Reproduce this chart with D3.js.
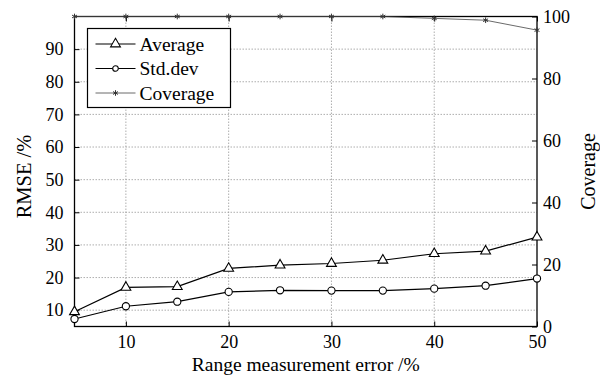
<!DOCTYPE html>
<html lang="en">
<head>
<meta charset="UTF-8">
<title>RMSE vs range measurement error</title>
<script src="https://d3js.org/d3.v7.min.js"></script>
<style>
    body { margin: 0; background: #fff; }
    .grid line { stroke: #999; stroke-width: 0.8px; stroke-dasharray: 1.5,1.5; }
</style>
</head>
<body>
<div id="chart"></div>
<script>
// data
const errors = [5, 10, 15, 20, 25, 30, 35, 40, 45, 50];
const average = [9.5, 17.0, 17.2, 22.8, 23.8, 24.3, 25.3, 27.3, 28.1, 32.4];
const stddev = [7.3, 11.2, 12.6, 15.6, 16.1, 16.0, 16.0, 16.6, 17.5, 19.7];
const coverage = [100, 100, 100, 100, 100, 100, 100, 99.4, 98.8, 95.6];
const leftTicks = [10, 20, 30, 40, 50, 60, 70, 80, 90];
const rightTicks = [0, 20, 40, 60, 80, 100];
const xTicks = [10, 20, 30, 40, 50];

const serif = '"Liberation Serif", "Times New Roman", serif';
const width = 600, height = 376;
const margin = { top: 16.5, right: 63, bottom: 49.5, left: 74.5 };
const iw = width - margin.left - margin.right;
const ih = height - margin.top - margin.bottom;

const svg = d3.select("#chart").append("svg")
    .attr("width", width)
    .attr("height", height)
    .style("font-family", serif);

const g = svg.append("g").attr("transform", `translate(${margin.left},${margin.top})`);

const x = d3.scaleLinear().domain([5, 50]).range([0, iw]);
const yL = d3.scaleLinear().domain([5, 100]).range([ih, 0]);
const yR = d3.scaleLinear().domain([0, 100]).range([ih, 0]);

// grid
const grid = g.append("g").attr("class", "grid");
grid.selectAll(".gx").data(xTicks.filter(d => d < 50)).enter().append("line")
    .attr("x1", d => x(d)).attr("x2", d => x(d))
    .attr("y1", 0).attr("y2", ih);
grid.selectAll(".gy").data(leftTicks).enter().append("line")
    .attr("x1", 0).attr("x2", iw)
    .attr("y1", d => yL(d)).attr("y2", d => yL(d));

// axes with inward ticks
const tickLen = 5;
function styleAxis(sel) {
    sel.attr("font-family", serif).attr("font-size", 18);
    sel.select(".domain").remove();
    sel.selectAll(".tick line").attr("stroke", "#000");
    sel.selectAll(".tick text").attr("fill", "#000")
        .style("font-family", serif).style("font-size", "18px");
}
g.append("g").attr("transform", `translate(0,${ih})`)
    .call(d3.axisBottom(x).tickValues(xTicks).tickSizeInner(-tickLen).tickSizeOuter(0).tickPadding(9))
    .call(styleAxis);
g.append("g")
    .call(d3.axisTop(x).tickValues(xTicks).tickSizeInner(-tickLen).tickSizeOuter(0).tickFormat(""))
    .call(styleAxis);
g.append("g")
    .call(d3.axisLeft(yL).tickValues(leftTicks).tickSizeInner(-tickLen).tickSizeOuter(0).tickPadding(11))
    .call(styleAxis);
g.append("g").attr("transform", `translate(${iw},0)`)
    .call(d3.axisRight(yR).tickValues(rightTicks).tickSizeInner(-tickLen).tickSizeOuter(0).tickPadding(6))
    .call(styleAxis);

g.append("rect")
    .attr("width", iw).attr("height", ih)
    .attr("fill", "none").attr("stroke", "#000").attr("stroke-width", 1.3);

// lines
const lineL = vals => d3.line().x((d, i) => x(errors[i])).y(d => yL(d))(vals);
const lineR = vals => d3.line().x((d, i) => x(errors[i])).y(d => yR(d))(vals);

g.append("path").attr("d", lineR(coverage))
    .attr("fill", "none").attr("stroke", "#444").attr("stroke-width", 0.8);
g.append("path").attr("d", lineL(average))
    .attr("fill", "none").attr("stroke", "#000").attr("stroke-width", 1.2);
g.append("path").attr("d", lineL(stddev))
    .attr("fill", "none").attr("stroke", "#000").attr("stroke-width", 1.2);

const tri = d3.symbol().type(d3.symbolTriangle).size(42);
const star = d3.symbol().type(d3.symbolAsterisk).size(22);

g.selectAll(".avg").data(average).enter().append("path")
    .attr("d", tri)
    .attr("transform", (d, i) => `translate(${x(errors[i])},${yL(d)})`)
    .attr("fill", "#fff").attr("stroke", "#000").attr("stroke-width", 1.1);
g.selectAll(".sd").data(stddev).enter().append("circle")
    .attr("cx", (d, i) => x(errors[i])).attr("cy", d => yL(d)).attr("r", 3.6)
    .attr("fill", "#fff").attr("stroke", "#000").attr("stroke-width", 1.1);
g.selectAll(".cov").data(coverage).enter().append("path")
    .attr("d", star)
    .attr("transform", (d, i) => `translate(${x(errors[i])},${yR(d)})`)
    .attr("fill", "none").attr("stroke", "#333").attr("stroke-width", 1);

// legend
const legend = g.append("g").attr("transform", "translate(13,12)");
legend.append("rect").attr("width", 143).attr("height", 79)
    .attr("fill", "#fff").attr("stroke", "#000").attr("stroke-width", 1.2);
const items = [
    { name: "Average", kind: "tri" },
    { name: "Std.dev", kind: "circle" },
    { name: "Coverage", kind: "star" }
];
items.forEach((it, i) => {
    const row = legend.append("g").attr("transform", `translate(0,${15.5 + i * 24.5})`);
    row.append("line").attr("x1", 8).attr("x2", 48).attr("y1", 0).attr("y2", 0)
        .attr("stroke", it.kind === "star" ? "#444" : "#000")
        .attr("stroke-width", it.kind === "star" ? 0.8 : 1.2);
    if (it.kind === "tri") {
        row.append("path").attr("d", tri).attr("transform", "translate(28,0)")
            .attr("fill", "#fff").attr("stroke", "#000").attr("stroke-width", 1.1);
    } else if (it.kind === "circle") {
        row.append("circle").attr("cx", 28).attr("cy", 0).attr("r", 2.8)
            .attr("fill", "#fff").attr("stroke", "#000").attr("stroke-width", 1.1);
    } else {
        row.append("path").attr("d", star).attr("transform", "translate(28,0)")
            .attr("fill", "none").attr("stroke", "#333");
    }
    row.append("text").attr("x", 52).attr("y", 6.5).attr("font-size", 19.5).text(it.name);
});

// axis titles
svg.append("text")
    .attr("x", margin.left + iw / 2).attr("y", 371)
    .attr("text-anchor", "middle").attr("font-size", 19.5)
    .text("Range measurement error /%");
svg.append("text")
    .attr("transform", `translate(31,${margin.top + ih / 2 + 5}) rotate(-90)`)
    .attr("text-anchor", "middle").attr("font-size", 20.5)
    .text("RMSE /%");
svg.append("text")
    .attr("transform", `translate(595,${margin.top + ih / 2}) rotate(-90)`)
    .attr("text-anchor", "middle").attr("font-size", 20)
    .text("Coverage");
</script>
</body>
</html>
